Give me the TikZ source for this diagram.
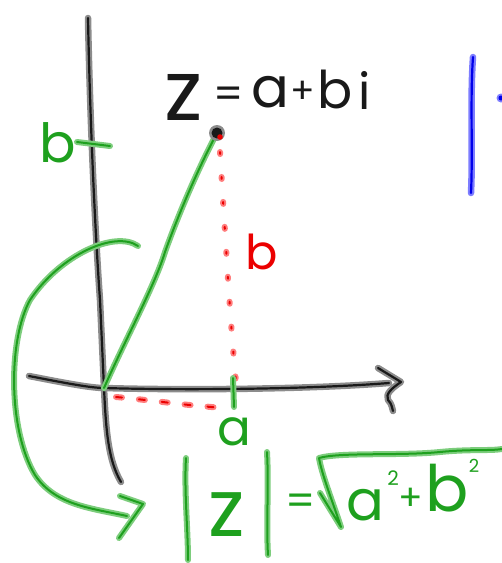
\documentclass[tikz,border=0pt]{standalone}
\usepackage{fontspec}
\setmainfont{Poppins}
\definecolor{kcore}{RGB}{25,25,25}
\definecolor{khalo}{RGB}{140,140,140}
\definecolor{gcore}{RGB}{30,160,30}
\definecolor{ghalo}{RGB}{125,205,125}
\definecolor{rcore}{RGB}{235,0,0}
\definecolor{rhalo}{RGB}{255,125,125}
\definecolor{bcore}{RGB}{0,0,235}
\definecolor{bhalo}{RGB}{125,125,255}
\tikzset{
  kink/.style={draw=kcore, line width=2.2pt, line cap=round, line join=round,
    preaction={draw=khalo, line width=6.5pt, line cap=round, line join=round}},
  gink/.style={draw=gcore, line width=2pt, line cap=round, line join=round,
    preaction={draw=ghalo, line width=6pt, line cap=round, line join=round}},
  rdots/.style={draw=rcore, line width=2pt, line cap=round, dash pattern=on #1,
    preaction={draw=rhalo, line width=6pt, line cap=round, dash pattern=on #1}},
  bink/.style={draw=bcore, line width=2.2pt, line cap=round, line join=round,
    preaction={draw=bhalo, line width=6.5pt, line cap=round, line join=round}},
  txt/.style={inner sep=0pt, outer sep=0pt},
  ktxt/.style={txt, text=kcore},
  gtxt/.style={txt, text=gcore},
  rtxt/.style={txt, text=rcore},
}
\begin{document}
\begin{tikzpicture}[x=1pt,y=-1pt]
\useasboundingbox (0,0) rectangle (502,563);
% coordinates
\coordinate (O) at (104,388);
\coordinate (Z) at (217,133);
% y axis
\draw[kink] (88,18) .. controls (90,120) and (95,230) .. (100,300) -- (O)
  .. controls (106,430) and (108,460) .. (121,482);
% x axis
\coordinate (xa) at (389,383);
\draw[kink] (29,376) .. controls (60,382) and (90,388) .. (O)
  .. controls (170,390) and (300,390) .. (xa);
\draw[kink] (378,368) -- (401,382) .. controls (392,388) and (385,394) .. (388,400) .. controls (392,404) and (392,408) .. (393,411);
% b tick and label
\draw[gink] (77,142) -- (110,146);
\node[gtxt] (blab) at (58,143) {\fontsize{54}{60}\selectfont b};
% modulus line
\draw[gink] (O) .. controls (125,340) and (155,285) .. (165,252) .. controls (180,210) and (200,165) .. (Z);
% red dotted vertical
\draw[rdots={2pt off 23pt}] (220,152) .. controls (225,230) and (230,320) .. (236,382);
% red dashed horizontal
\draw[rdots={6pt off 17pt}] (116,397) .. controls (150,400) and (190,406) .. (226,408);
% a tick and label
\draw[gink] (233,378) -- (234,407);
\node[gtxt] (alab) at (234,432) {\fontsize{50}{60}\selectfont a};
% red b label
\node[rtxt] (rb) at (262,252) {\fontsize{48}{60}\selectfont b};
% point z
\fill[khalo] (Z) circle (8pt);
\fill[kcore] (Z) circle (5.5pt);
\fill[rcore] (220,137) circle (2.8pt);
% z = a+bi
\node[ktxt] (t1) at (184,97) {\fontsize{84}{90}\selectfont z};
\node[ktxt] (t2) at (229,98) {\fontsize{42}{60}\selectfont =};
\node[ktxt] (t3) at (270,92) {\fontsize{56}{60}\selectfont a};
\node[ktxt] (t4) at (303,92) {\fontsize{36}{60}\selectfont +};
\node[ktxt] (t5) at (335,89) {\fontsize{52}{60}\selectfont b};
\node[ktxt] (t6) at (365,90) {\fontsize{50}{60}\selectfont i};
% blue
\draw[bink] (473,57) .. controls (470,100) and (473,150) .. (471,193);
\fill[bhalo] (501,98) circle (4.5pt);
\fill[bcore] (501,98) circle (2.5pt);
% green arc with arrow
\coordinate (arcS) at (138,246);
\coordinate (arcE) at (127,516);
\draw[gink] (arcS) .. controls (115,230) and (60,255) .. (30,300)
  .. controls (8,340) and (8,430) .. (35,475)
  .. controls (55,505) and (90,508) .. (arcE);
\draw[gink] (120,496) -- (143,504) -- (119,538);
% |z| = sqrt(a^2+b^2)
\draw[gink] (186,458) .. controls (184,490) and (188,530) .. (188,560);
\draw[gink] (267,452) .. controls (269,490) and (266,520) .. (268,555);
\node[gtxt] (f1) at (227,515) {\fontsize{80}{90}\selectfont z};
\node[gtxt] (f2) at (301,505) {\fontsize{42}{60}\selectfont =};
\draw[gink] (320,493) -- (341,527) .. controls (332,500) and (322,475) .. (319,458)
  .. controls (340,452) and (400,456) .. (440,452) .. controls (470,449) and (490,451) .. (502,449);
\node[gtxt] (f3) at (365,505) {\fontsize{56}{60}\selectfont a};
\node[gtxt] (f4) at (393,478) {\fontsize{20}{20}\selectfont 2};
\node[gtxt] (f5) at (411,499) {\fontsize{36}{60}\selectfont +};
\node[gtxt] (f6) at (447,488) {\fontsize{64}{70}\selectfont b};
\node[gtxt] (f7) at (474,466) {\fontsize{18}{20}\selectfont 2};
\end{tikzpicture}
\end{document}
